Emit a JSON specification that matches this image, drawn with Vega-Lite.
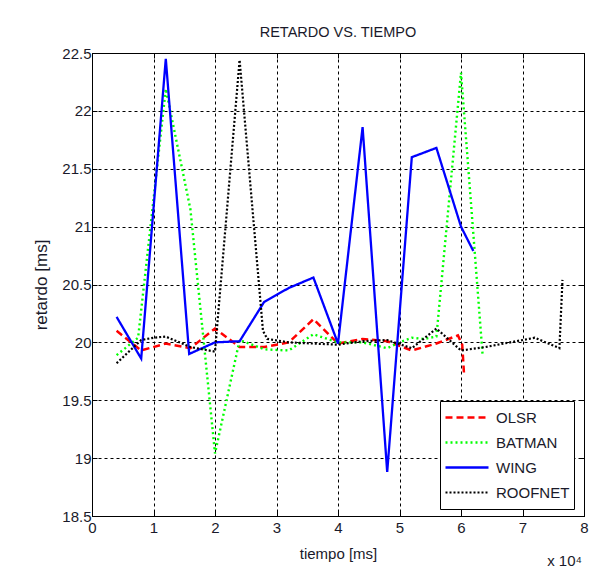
{
  "$schema": "https://vega.github.io/schema/vega-lite/v6.json",
  "width": 492,
  "height": 463,
  "autosize": {"type": "none"},
  "padding": {"left": 92, "top": 53, "right": 20, "bottom": 56},
  "background": "white",
  "title": {
    "text": "RETARDO VS. TIEMPO",
    "frame": "group",
    "fontSize": 14.5,
    "font": "Liberation Sans",
    "fontWeight": "normal",
    "color": "#1a1a2a",
    "baseline": "alphabetic",
    "offset": 14,
    "dy": 19
  },
  "config": {
    "view": {"stroke": "black", "strokeWidth": 1},
    "font": "Liberation Sans"
  },
  "data": {
    "values": [
      {"s": "OLSR", "t": 4000, "r": 20.10},
      {"s": "OLSR", "t": 8000, "r": 19.93},
      {"s": "OLSR", "t": 12000, "r": 19.99},
      {"s": "OLSR", "t": 16000, "r": 19.95},
      {"s": "OLSR", "t": 20000, "r": 20.12},
      {"s": "OLSR", "t": 24000, "r": 19.96},
      {"s": "OLSR", "t": 28000, "r": 19.96},
      {"s": "OLSR", "t": 32000, "r": 20.00},
      {"s": "OLSR", "t": 36000, "r": 20.20},
      {"s": "OLSR", "t": 40000, "r": 19.99},
      {"s": "OLSR", "t": 44000, "r": 20.03},
      {"s": "OLSR", "t": 48000, "r": 20.01},
      {"s": "OLSR", "t": 52000, "r": 19.93},
      {"s": "OLSR", "t": 56000, "r": 19.99},
      {"s": "OLSR", "t": 59500, "r": 20.06},
      {"s": "OLSR", "t": 60200, "r": 19.98},
      {"s": "OLSR", "t": 60500, "r": 19.72},
      {"s": "BATMAN", "t": 4000, "r": 19.89},
      {"s": "BATMAN", "t": 7500, "r": 20.04},
      {"s": "BATMAN", "t": 12000, "r": 22.19},
      {"s": "BATMAN", "t": 16000, "r": 21.15},
      {"s": "BATMAN", "t": 20000, "r": 19.04},
      {"s": "BATMAN", "t": 24000, "r": 20.02},
      {"s": "BATMAN", "t": 28000, "r": 19.94},
      {"s": "BATMAN", "t": 32000, "r": 19.93},
      {"s": "BATMAN", "t": 36000, "r": 20.07},
      {"s": "BATMAN", "t": 40000, "r": 20.00},
      {"s": "BATMAN", "t": 44000, "r": 20.00},
      {"s": "BATMAN", "t": 48000, "r": 19.95},
      {"s": "BATMAN", "t": 50000, "r": 20.00},
      {"s": "BATMAN", "t": 52000, "r": 20.04},
      {"s": "BATMAN", "t": 54000, "r": 20.03},
      {"s": "BATMAN", "t": 56000, "r": 20.05},
      {"s": "BATMAN", "t": 60000, "r": 22.33},
      {"s": "BATMAN", "t": 63500, "r": 19.90},
      {"s": "WING", "t": 4000, "r": 20.22},
      {"s": "WING", "t": 8000, "r": 19.86},
      {"s": "WING", "t": 12000, "r": 22.45},
      {"s": "WING", "t": 15800, "r": 19.90},
      {"s": "WING", "t": 20000, "r": 20.00},
      {"s": "WING", "t": 24000, "r": 20.01},
      {"s": "WING", "t": 28000, "r": 20.35},
      {"s": "WING", "t": 32000, "r": 20.47},
      {"s": "WING", "t": 36000, "r": 20.56},
      {"s": "WING", "t": 40000, "r": 19.99},
      {"s": "WING", "t": 44000, "r": 21.86},
      {"s": "WING", "t": 48000, "r": 18.88},
      {"s": "WING", "t": 52000, "r": 21.60},
      {"s": "WING", "t": 56000, "r": 21.68},
      {"s": "WING", "t": 60000, "r": 21.00},
      {"s": "WING", "t": 62000, "r": 20.79},
      {"s": "ROOFNET", "t": 4000, "r": 19.82},
      {"s": "ROOFNET", "t": 8000, "r": 20.02},
      {"s": "ROOFNET", "t": 10000, "r": 20.04},
      {"s": "ROOFNET", "t": 12000, "r": 20.05},
      {"s": "ROOFNET", "t": 16000, "r": 19.96},
      {"s": "ROOFNET", "t": 20000, "r": 19.92},
      {"s": "ROOFNET", "t": 24000, "r": 22.44},
      {"s": "ROOFNET", "t": 27800, "r": 20.10},
      {"s": "ROOFNET", "t": 28500, "r": 20.03},
      {"s": "ROOFNET", "t": 32000, "r": 20.00},
      {"s": "ROOFNET", "t": 36000, "r": 19.99},
      {"s": "ROOFNET", "t": 40000, "r": 19.98},
      {"s": "ROOFNET", "t": 44000, "r": 20.01},
      {"s": "ROOFNET", "t": 48000, "r": 20.02},
      {"s": "ROOFNET", "t": 52000, "r": 19.95},
      {"s": "ROOFNET", "t": 56000, "r": 20.12},
      {"s": "ROOFNET", "t": 60000, "r": 19.93},
      {"s": "ROOFNET", "t": 64000, "r": 19.96},
      {"s": "ROOFNET", "t": 68000, "r": 20.00},
      {"s": "ROOFNET", "t": 72000, "r": 20.04},
      {"s": "ROOFNET", "t": 76000, "r": 19.95},
      {"s": "ROOFNET", "t": 76500, "r": 20.54}
    ]
  },
  "layer": [
    {
      "mark": {"type": "line", "strokeCap": "butt"},
      "encoding": {
        "x": {
          "field": "t",
          "type": "quantitative",
          "scale": {"domain": [0, 80000], "nice": false, "zero": false},
          "axis": {
            "orient": "bottom",
            "title": "tiempo [ms]",
            "values": [0, 10000, 20000, 30000, 40000, 50000, 60000, 70000, 80000],
            "labelExpr": "datum.value / 10000",
            "grid": true,
            "gridDash": [3, 3],
            "gridColor": "black",
            "gridOpacity": 1,
            "tickSize": -5,
            "tickColor": "black",
            "domainColor": "black",
            "labelFontSize": 15,
            "labelColor": "#1a1a2a",
            "labelPadding": 9,
            "labelFlush": false,
            "titleFontSize": 15,
            "titleFontWeight": "normal",
            "titleColor": "#1a1a2a",
            "titleBaseline": "alphabetic",
            "titleY": 42
          }
        },
        "y": {
          "field": "r",
          "type": "quantitative",
          "scale": {"domain": [18.5, 22.5], "nice": false, "zero": false},
          "axis": {
            "orient": "left",
            "title": "retardo [ms]",
            "values": [18.5, 19, 19.5, 20, 20.5, 21, 21.5, 22, 22.5],
            "format": "~g",
            "grid": true,
            "gridDash": [3, 3],
            "gridColor": "black",
            "gridOpacity": 1,
            "tickSize": -5,
            "tickColor": "black",
            "domainColor": "black",
            "labelFontSize": 15,
            "labelColor": "#1a1a2a",
            "labelPadding": 6,
            "labelFlush": false,
            "titleFontSize": 17,
            "titleFontWeight": "normal",
            "titleColor": "#1a1a2a",
            "titleAngle": 270,
            "titleAlign": "center",
            "titleBaseline": "middle",
            "titleX": -51,
            "titleY": 231.5
          }
        },
        "color": {
          "field": "s",
          "type": "nominal",
          "scale": {"domain": ["OLSR", "BATMAN", "WING", "ROOFNET"], "range": ["#ff0000", "#00ff00", "#0000ff", "#000000"]},
          "legend": {
            "orient": "none",
            "legendX": 348,
            "legendY": 348,
            "title": null,
            "symbolType": "stroke",
            "symbolSize": 1850,
            "clipHeight": 25,
            "labelFontSize": 15,
            "labelColor": "#1a1a2a",
            "strokeColor": "black",
            "fillColor": "white",
            "padding": 4,
            "rowPadding": 0,
            "labelOffset": 6
          }
        },
        "strokeDash": {
          "field": "s",
          "type": "nominal",
          "scale": {"domain": ["OLSR", "BATMAN", "WING", "ROOFNET"], "range": [[7, 4], [2, 3], [1, 0], [2, 2]]}
        },
        "strokeWidth": {
          "field": "s",
          "type": "nominal",
          "scale": {"domain": ["OLSR", "BATMAN", "WING", "ROOFNET"], "range": [2.5, 2.2, 2.5, 2.2]}
        }
      }
    },
    {
      "data": {"values": [{"lbl": "x 10⁴"}]},
      "mark": {"type": "text", "align": "right", "baseline": "alphabetic", "dy": 50, "dx": -2, "fontSize": 15, "color": "#1a1a2a"},
      "encoding": {
        "text": {"field": "lbl"},
        "x": {
          "datum": 80000,
          "type": "quantitative",
          "axis": {"orient": "top", "title": null, "labels": false, "grid": false, "domain": false, "tickSize": -5, "tickColor": "black", "values": [0, 10000, 20000, 30000, 40000, 50000, 60000, 70000, 80000]}
        },
        "y": {
          "datum": 18.5,
          "type": "quantitative",
          "axis": {"orient": "right", "title": null, "labels": false, "grid": false, "domain": false, "tickSize": -5, "tickColor": "black", "values": [18.5, 19, 19.5, 20, 20.5, 21, 21.5, 22, 22.5]}
        }
      }
    }
  ],
  "resolve": {"axis": {"x": "independent", "y": "independent"}}
}
